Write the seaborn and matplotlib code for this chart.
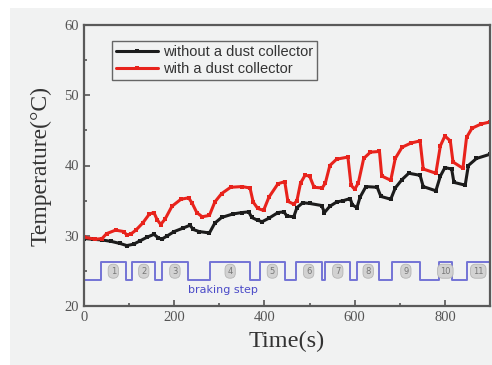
import numpy as np
import pandas as pd
import matplotlib
matplotlib.use('Agg')
import matplotlib.pyplot as plt
from matplotlib.patches import Rectangle
import seaborn as sns

# temperature (time in s, temperature in degC)
t_without = [0, 20, 40, 60, 80, 95, 110, 125, 140, 155, 165, 172, 185, 200, 220, 235, 242, 255, 278,
             290, 305, 330, 350, 365, 372, 385, 395, 410, 430, 443, 450, 465, 472, 485, 500, 527, 533,
             545, 560, 575, 590, 595, 605, 612, 625, 650, 658, 680, 690, 705, 720, 745, 752, 780, 790,
             800, 815, 820, 845, 852, 870, 900]
temp_without = [29.6, 29.5, 29.4, 29.2, 28.9, 28.6, 28.8, 29.3, 29.8, 30.2, 29.7, 29.5, 30.0, 30.6, 31.1,
                31.5, 30.9, 30.6, 30.4, 31.8, 32.6, 33.1, 33.3, 33.4, 32.6, 32.2, 32.0, 32.5, 33.3, 33.4,
                32.8, 32.7, 34.0, 34.7, 34.6, 34.3, 33.3, 34.2, 34.8, 35.0, 35.3, 34.4, 34.0, 35.5, 37.0,
                36.9, 35.6, 35.2, 36.8, 38.0, 38.9, 38.6, 37.0, 36.4, 38.5, 39.7, 39.5, 37.6, 37.2, 40.0,
                41.0, 41.6]

t_with = [0, 25, 40, 50, 70, 88, 95, 105, 115, 130, 145, 155, 162, 170, 180, 195, 215, 232, 240, 250,
          262, 278, 290, 305, 325, 350, 368, 375, 385, 398, 410, 430, 445, 452, 465, 472, 480, 490, 500,
          510, 528, 535, 545, 560, 585, 592, 600, 608, 620, 635, 655, 660, 680, 690, 705, 725, 745, 752,
          780, 790, 800, 812, 818, 840, 848, 860, 880, 900]
temp_with = [29.8, 29.5, 29.6, 30.3, 30.8, 30.6, 30.1, 30.3, 30.8, 31.8, 33.1, 33.3, 32.3, 31.6, 32.4,
             34.2, 35.2, 35.4, 34.6, 33.3, 32.7, 32.9, 34.8, 36.0, 36.9, 37.0, 36.8, 34.8, 33.9, 33.6,
             35.5, 37.4, 37.7, 34.9, 34.5, 35.0, 37.5, 38.6, 38.5, 36.9, 36.8, 37.5, 40.0, 40.9, 41.2,
             37.2, 36.6, 37.5, 41.0, 41.9, 42.0, 38.5, 37.9, 41.0, 42.6, 43.2, 43.5, 39.5, 38.9, 42.8,
             44.2, 43.5, 40.5, 39.6, 44.0, 45.3, 45.9, 46.2]

# braking steps (start, end) in s
brake_start = [38, 107, 172, 280, 390, 469, 535, 605, 682, 787, 848]
brake_end = [92, 158, 231, 368, 445, 527, 590, 655, 745, 815, 900]
step_low, step_high = 23.75, 26.2

# build step signal from the braking intervals
step_t = [0]
step_v = [step_low]
for s, e in zip(brake_start, brake_end):
    step_t += [s, e]
    step_v += [step_high, step_low]
step_df = pd.DataFrame({'t': step_t, 'v': step_v})

df_without = pd.DataFrame({'Time': t_without, 'Temp': temp_without})
df_with = pd.DataFrame({'Time': t_with, 'Temp': temp_with})

sns.set_style('ticks')
bg = '#f1f2f2'
fig = plt.figure(figsize=(4.92, 3.65), dpi=100, facecolor=bg)
# thin white margin at the top and left edges of the screenshot
fig.patches.append(Rectangle((0, 1 - 8 / 365), 1, 8 / 365, transform=fig.transFigure,
                             facecolor='white', edgecolor='none', zorder=-10))
fig.patches.append(Rectangle((0, 0), 10 / 492, 1, transform=fig.transFigure,
                             facecolor='white', edgecolor='none', zorder=-10))
ax = fig.add_axes([84 / 492, 1 - 306 / 365, 406 / 492, 281 / 365])
ax.set_facecolor(bg)

sns.lineplot(data=df_without, x='Time', y='Temp', ax=ax, color='#1c1c1c', lw=2.2,
             marker='s', markersize=2.5, markeredgewidth=0, label='without a dust collector')
sns.lineplot(data=df_with, x='Time', y='Temp', ax=ax, color='#e8231c', lw=2.2,
             marker='s', markersize=2.5, markeredgewidth=0, label='with a dust collector')
sns.lineplot(data=step_df, x='t', y='v', ax=ax, color='#7373d6', lw=1.4,
             drawstyle='steps-post', legend=False)

for i, (s, e) in enumerate(zip(brake_start, brake_end)):
    ax.text((s + e) / 2, 24.95, str(i + 1), ha='center', va='center', fontsize=6, color='#777777',
            bbox=dict(boxstyle='round,pad=0.3,rounding_size=0.6', fc='#d2d2d2', ec='#b5b5b5', lw=0.6))
ax.text(307, 22.3, 'braking step', ha='center', va='center', fontsize=8,
        color='#4b4bc8', family='DejaVu Sans')

ax.set_xlim(0, 900)
ax.set_ylim(20, 60)
ax.set_xticks([0, 200, 400, 600, 800])
ax.set_xticks([100, 300, 500, 700], minor=True)
ax.set_yticks([20, 30, 40, 50, 60])
ax.set_yticks([25, 35, 45, 55], minor=True)
ax.tick_params(which='both', direction='in', colors='#555555', labelcolor='#555555',
               labelsize=10.5, width=1.2)
ax.tick_params(which='major', length=4)
ax.tick_params(which='minor', length=2.5)
for lab in ax.get_xticklabels() + ax.get_yticklabels():
    lab.set_family('Liberation Serif')
for sp in ax.spines.values():
    sp.set_visible(True)
    sp.set_color('#5a5a5a')
    sp.set_linewidth(1.6)

ax.set_xlabel('Time(s)', family='Liberation Serif', fontsize=17.5, color='#333333', labelpad=5)
ax.set_ylabel('Temperature(°C)', family='Liberation Serif', fontsize=17, color='#333333', labelpad=9)

leg = ax.legend(loc='upper left', bbox_to_anchor=(0.05, 0.97), fancybox=False,
                frameon=True, edgecolor='#666666', facecolor=bg, framealpha=1,
                prop={'family': 'Liberation Sans', 'size': 10.5}, handlelength=2.9,
                handletextpad=0.3, borderpad=0.3, labelspacing=0.2)
leg.get_frame().set_linewidth(1.0)
for txt in leg.get_texts():
    txt.set_color('#333333')

fig.savefig('out.png', dpi=100, facecolor=fig.get_facecolor())
